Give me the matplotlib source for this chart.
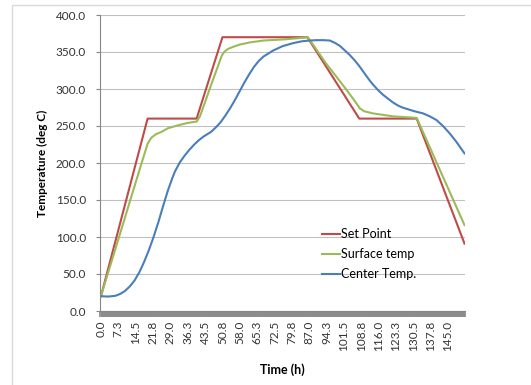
import matplotlib
matplotlib.use("Agg")
import matplotlib.pyplot as plt
from matplotlib.patches import Rectangle
from matplotlib.ticker import MultipleLocator

plt.rcParams['font.family'] = ['Lato', 'DejaVu Sans']

# data (time in h, temperature in deg C)
set_t = [0, 19.5, 40, 50.8, 86.3, 108, 132, 152]
set_v = [20, 260, 260, 370, 370, 260, 260, 91]

surf_t = [0, 17, 19.5, 21, 23, 25.3, 28, 32.3, 36, 40, 41.4, 46, 50.5, 51.5, 53, 55.3,
          58, 62.3, 68, 76.2, 82, 86.5, 94, 102.4, 106.5, 108.2, 110, 113.8, 118, 122.2,
          127, 132, 152]
surf_v = [20, 200, 226, 234, 239, 242, 247, 251, 254, 256, 263, 305, 345, 350, 354, 357,
          360, 363, 365.5, 367, 368.5, 370, 335, 300, 282, 274, 270, 267, 265, 263,
          262, 261, 116]

cent_t = [0, 3, 6, 8, 10, 12, 14, 16, 18, 20, 22, 24, 26, 28, 30, 31, 33, 35, 37, 39,
          41, 43, 45, 46, 48, 50, 52, 54, 56, 58, 60, 62, 64, 66, 68, 72, 76, 80.4, 84,
          87.3, 90, 93, 95.7, 98, 100, 102, 104, 106, 108, 110, 112, 114, 116, 118, 120,
          122, 124, 126, 128, 131, 134.7, 137.5, 140.3, 143, 145.8, 148.5, 152]
cent_v = [20, 19.5, 20.5, 23, 27, 33, 41, 52, 66, 82, 100, 120, 142, 163, 181, 189, 201,
          210, 218, 225, 231, 236, 240, 242, 248, 255, 264, 274, 285, 297, 309, 320, 330,
          338, 344, 352, 358, 362, 364.5, 365.5, 366, 366, 365.5, 362, 358, 352, 346, 339,
          331, 322, 313, 305, 298, 292, 287, 282, 278, 275, 273, 270, 267, 263, 258, 250,
          240, 229, 213]

tick_labels = ["0.0", "7.3", "14.5", "21.8", "29.0", "36.3", "43.5", "50.8", "58.0", "65.3",
               "72.5", "79.8", "87.0", "94.3", "101.5", "108.8", "116.0", "123.3", "130.5",
               "137.8", "145.0"]
label_step = 7.25

W, H = 531, 385
fig = plt.figure(figsize=(W / 100, H / 100), dpi=100)
ax = fig.add_axes([100 / W, 1 - 311 / H, 365 / W, 296 / H])

# chart area border
fig.patches.append(Rectangle((12 / W, -0.1), 1.2, 1 - 5 / H + 0.1, transform=fig.transFigure,
                             fill=False, edgecolor='#d9d9d9', linewidth=1))

ax.plot(set_t, set_v, color='#be4b48', lw=1.5, label='Set Point')
ax.plot(surf_t, surf_v, color='#9bbb59', lw=1.5, label='Surface temp')
ax.plot(cent_t, cent_v, color='#4a7ebb', lw=1.5, label='Center Temp.')

ax.set_xlim(-0.4, 152.2)
ax.set_ylim(0, 400)
ax.set_yticks(range(0, 401, 50))
ax.set_yticklabels([f"{v:.1f}" for v in range(0, 401, 50)], fontsize=8.5, color='#333333')
ax.grid(axis='y', color='#c0c0c0', linewidth=0.8)
ax.set_axisbelow(True)

ax.set_xticks([i * label_step for i in range(len(tick_labels))])
ax.set_xticklabels(tick_labels, rotation=90, fontsize=8.5, color='#333333')
ax.xaxis.set_minor_locator(MultipleLocator(0.25))
ax.tick_params(axis='x', which='major', length=0, pad=7)
ax.tick_params(axis='x', which='minor', length=4, width=1.3, color='#8c8c8c', direction='out')
ax.tick_params(axis='y', length=3, color='#868686', pad=7)

for s in ['top', 'right']:
    ax.spines[s].set_visible(False)
ax.spines['left'].set_color('#868686')
ax.spines['bottom'].set_color('#868686')

fig.text(42 / W, 1 - 163 / H, 'Temperature (deg C)', rotation=90, ha='center', va='center',
         fontsize=8.5, fontweight='bold')
fig.text(282 / W, 1 - 370 / H, 'Time (h)', ha='center', va='center',
         fontsize=9, fontweight='bold')

ax.legend(loc='upper left', bbox_to_anchor=(322 / W, 1 - 228 / H), bbox_transform=fig.transFigure,
          frameon=False, fontsize=9, handlelength=1.4, handletextpad=0.1, labelspacing=0.65,
          borderaxespad=0, borderpad=0)

fig.savefig('out.png', dpi=100)
